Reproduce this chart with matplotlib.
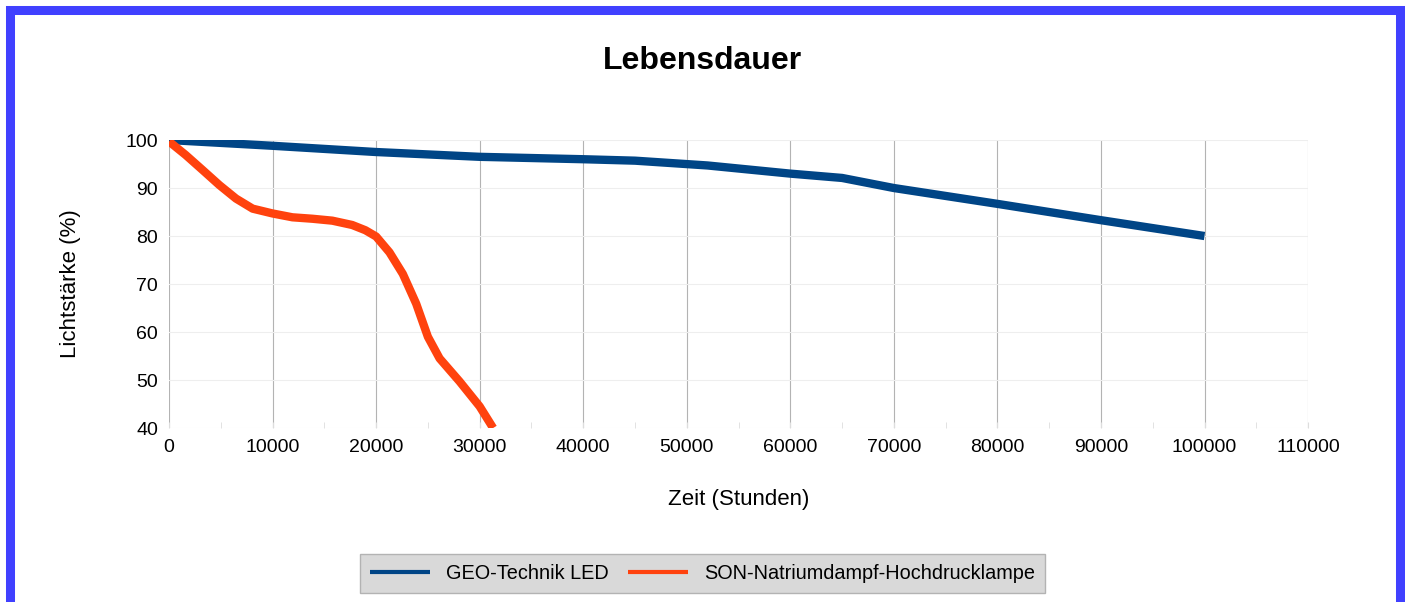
import matplotlib.pyplot as plt
from matplotlib.patches import Rectangle
from matplotlib.ticker import MultipleLocator

plt.rcParams['font.family'] = ['Liberation Sans', 'DejaVu Sans']

# GEO-Technik LED
led_hours = [0, 10000, 20000, 30000, 40000, 45000, 52000, 60000, 65000, 70000, 80000, 90000, 100000]
led_pct = [100, 98.8, 97.5, 96.5, 96.0, 95.7, 94.7, 93.0, 92.1, 90.0, 86.7, 83.3, 80.0]

# SON-Natriumdampf-Hochdrucklampe
son_hours = [0, 1600, 3270, 4870, 6470, 8080, 10000, 11920, 13850, 15770, 17690,
             18970, 20000, 21290, 22580, 23870, 25000, 26130, 28060, 30000, 31300]
son_pct = [99.7, 96.9, 93.7, 90.6, 87.8, 85.7, 84.7, 83.9, 83.6, 83.2, 82.3,
           81.2, 79.9, 76.6, 72.1, 65.9, 59.0, 54.5, 49.7, 44.5, 40.0]

x_ticks = list(range(0, 110001, 10000))
y_ticks = list(range(40, 101, 10))

fig = plt.figure(figsize=(14.05, 6.02), dpi=100)
ax = fig.add_axes([0.1203, 0.289, 0.8107, 0.4784])

ax.plot(led_hours, led_pct, color='#004586', lw=6, solid_capstyle='butt',
        solid_joinstyle='round', label='GEO-Technik LED')
ax.plot(son_hours, son_pct, color='#ff420e', lw=6, solid_capstyle='butt',
        solid_joinstyle='round', label='SON-Natriumdampf-Hochdrucklampe')

ax.set_xlim(0, 110000)
ax.set_ylim(40, 100)
ax.set_xticks(x_ticks)
ax.set_yticks(y_ticks)
ax.xaxis.set_minor_locator(MultipleLocator(5000))
ax.tick_params(axis='both', which='major', labelsize=14, length=0, pad=8)
ax.tick_params(axis='x', which='minor', length=4, color='#dddddd', direction='in')
ax.tick_params(axis='x', which='major', length=4, color='#dddddd', direction='in')

ax.grid(axis='x', which='major', color='#b3b3b3', lw=0.8)
ax.grid(axis='y', which='major', color='#eeeeee', lw=0.8)
ax.set_axisbelow(True)
for s in ax.spines.values():
    s.set_visible(False)

ax.set_xlabel('Zeit (Stunden)', fontsize=16, labelpad=24)
ax.set_ylabel('Lichtstärke (%)', fontsize=16, labelpad=32)
fig.text(0.5, 0.898, 'Lebensdauer', ha='center', va='center',
         fontsize=23, fontweight='bold')

leg = fig.legend(loc='center', bbox_to_anchor=(0.5, 0.047), ncol=2,
                 fontsize=14.3, frameon=True, fancybox=False,
                 handlelength=3.0, columnspacing=1.0, borderpad=0.5)
leg.get_frame().set_facecolor('#d9d9d9')
leg.get_frame().set_edgecolor('#b3b3b3')
leg.get_frame().set_alpha(1)
for line in leg.get_lines():
    line.set_linewidth(3)

# blue outer frame
fig.add_artist(Rectangle((9.5, -10), 1390, 602, transform=None, fill=False,
                         edgecolor='#4040ff', lw=6.5))

fig.savefig('out.png', dpi=100)
